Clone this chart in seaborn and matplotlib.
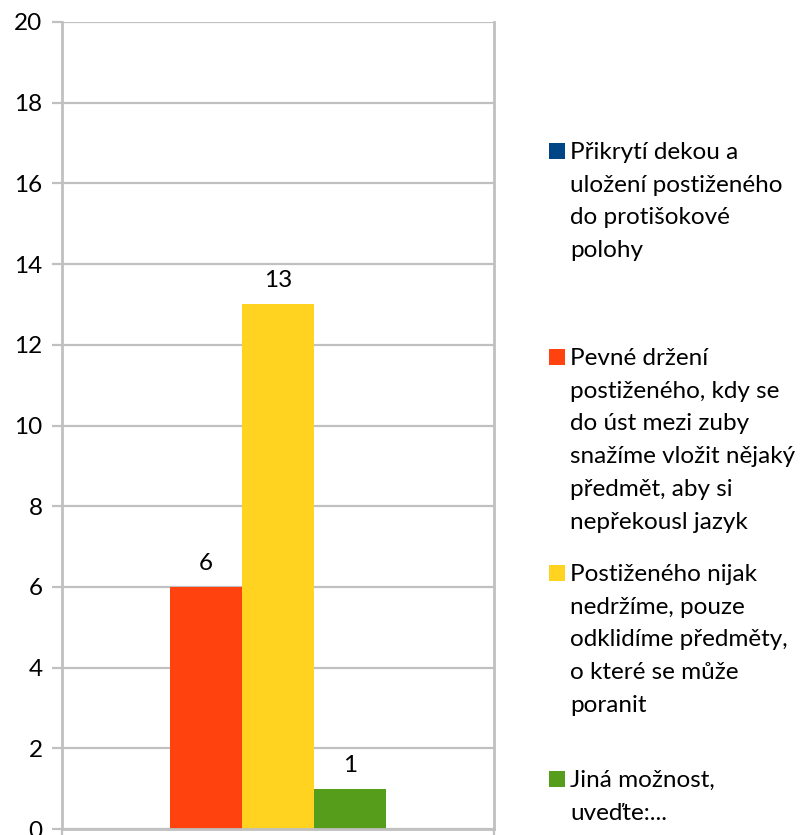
import matplotlib
matplotlib.use("Agg")
import matplotlib.pyplot as plt
from matplotlib.patches import Rectangle
import seaborn as sns
import pandas as pd

series = [
    "Přikrytí dekou a\nuložení postiženého\ndo protišokové\npolohy",
    "Pevné držení\npostiženého, kdy se\ndo úst mezi zuby\nsnažíme vložit nějaký\npředmět, aby si\nnepřekousl jazyk",
    "Postiženého nijak\nnedržíme, pouze\nodklidíme předměty,\no které se může\nporanit",
    "Jiná možnost,\nuveďte:...",
]
values = [0, 6, 13, 1]
colors = ["#004586", "#FF420E", "#FFD320", "#579D1C"]
yticks = [0, 2, 4, 6, 8, 10, 12, 14, 16, 18, 20]

sns.set_style("white")
plt.rcParams["font.family"] = ["Lato", "DejaVu Sans"]

df = pd.DataFrame({"pos": list(range(len(values))), "value": values, "series": series})

fig = plt.figure(figsize=(8.03, 8.35), dpi=100)
ax = fig.add_axes([62 / 803, 1 - 829 / 835, 432 / 803, 807 / 835])

sns.barplot(data=df, x="pos", y="value", hue="series", palette=colors,
            native_scale=True, dodge=False, width=1.0, legend=False, ax=ax,
            saturation=1, edgecolor="none", linewidth=0)

ax.set_xlim(-1.0, 5.0)
ax.set_ylim(0, 20)
ax.set_yticks(yticks)
ax.set_yticklabels([str(t) for t in yticks], fontsize=17.5, color="#000000")
ax.set_xticks([-1.0, 5.0])
ax.set_xticklabels(["", ""])
ax.set_xlabel("")
ax.set_ylabel("")

grid_c = "#C0C0C0"
ax.yaxis.grid(True, color=grid_c, linewidth=1.6)
ax.set_axisbelow(True)
for side in ["left", "right", "bottom"]:
    ax.spines[side].set_visible(True)
    ax.spines[side].set_color(grid_c)
    ax.spines[side].set_linewidth(2.0)
ax.spines["top"].set_visible(False)
ax.tick_params(axis="y", length=7, width=1.6, color=grid_c, pad=7, left=True)
ax.tick_params(axis="x", length=6, width=1.6, color=grid_c, bottom=True)

# value labels above the non-zero bars
for pos, v in zip(df["pos"], df["value"]):
    if v > 0:
        ax.annotate(str(v), (pos, v), xytext=(0, 17), textcoords="offset points",
                    ha="center", va="center", fontsize=17.5, color="#000000")

# legend entries laid out down the right-hand side
entry_centers = [151, 357, 573, 779]
for label, col, yc in zip(series, colors, entry_centers):
    fig.text(570 / 803, 1 - (yc - 9) / 835, label, ha="left", va="top",
             fontsize=17.5, color="#000000", linespacing=1.69)
    fig.patches.append(Rectangle((549 / 803, 1 - (yc + 8) / 835), 16 / 803, 16 / 835,
                                 facecolor=col, edgecolor="none",
                                 transform=fig.transFigure, figure=fig))

fig.savefig("out.png", dpi=100)
